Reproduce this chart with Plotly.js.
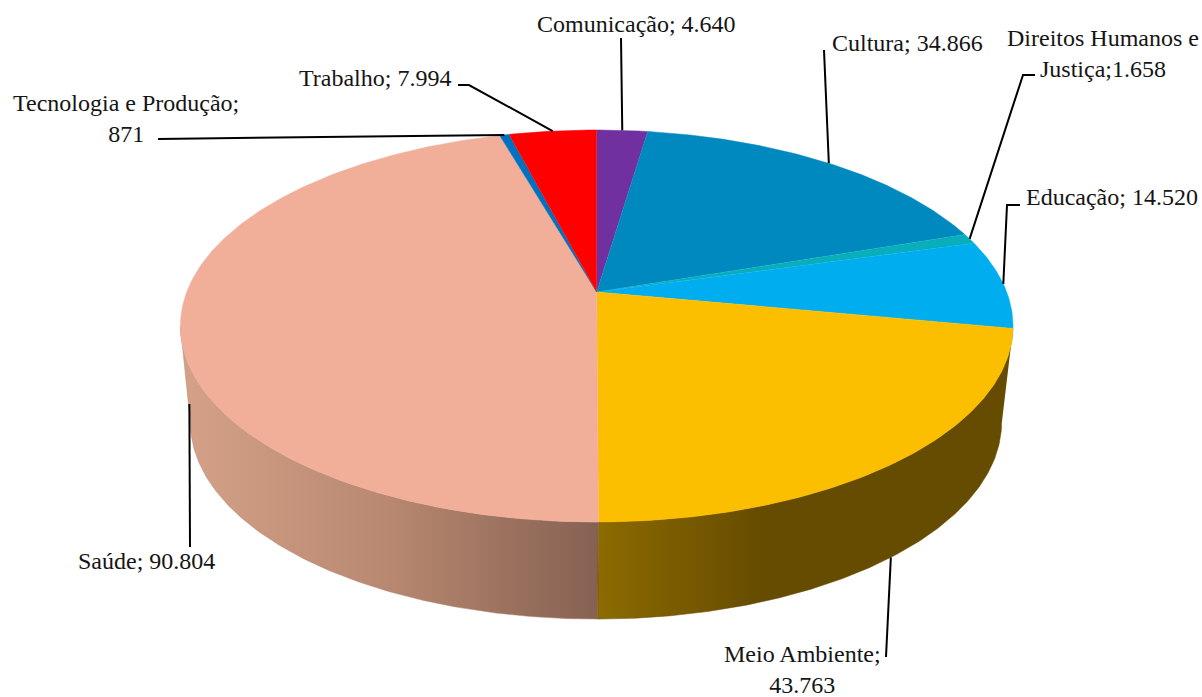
<!DOCTYPE html>
<html>
<head>
<meta charset="utf-8">
<script src="https://cdn.plot.ly/plotly-3.0.1.min.js"></script>
<style>html,body{margin:0;padding:0;background:#fff;overflow:hidden}#chart{width:1202px;height:697px}</style>
</head>
<body>
<div id="chart"></div>
<script>
// --- Data (clockwise from 12 o'clock) ---
const categories = ["Comunicação","Cultura","Direitos Humanos e Justiça","Educação","Meio Ambiente","Saúde","Tecnologia e Produção","Trabalho"];
const values = [4640,34866,1658,14520,43763,90804,871,7994];
const labelTexts = ["Comunicação; 4.640","Cultura; 34.866","Direitos Humanos e<br>Justiça;1.658","Educação; 14.520","Meio Ambiente;<br>43.763","Saúde; 90.804","Tecnologia e Produção;<br>871","Trabalho; 7.994"];

// --- Style ---
const sliceColors = ["#7030A0","#0089BE","#08AEBB","#00AEEF","#FCBF00","#F1AF99","#0070C0","#FF0000"];
const FONT = {family:"'Liberation Serif', serif", size:24, color:"#151515"};

// --- Layout helpers: label position, leader elbow points (pixel space) ---
const labelPos = [[636,24],[907,43],[1103,53],[1112,197],[802,669],[146,561],[126,118],[375,78]];
const leaderElbows = [[[621,38]],[[824,50]],[[1035,75],[1023,75]],[[1020,205],[1007,205]],[[886,657]],[[190,547]],[[158,139]],[[458,85],[469,85]]];
const leaderDepth = [0,0,0,0,1,0.88,0,0];

// --- Perspective disc projection ---
const K = 0.1735;
const TOP = {cx:596.7, cy:292, a:190.1, b:410};
const BASE = {cx:596, cy:388, a:191, b:399.5};
function project(d, deg){
  const t = deg*Math.PI/180, u = Math.sin(t), v = Math.cos(t), w = 1 + K*v;
  return [d.cx + d.b*u/w, d.cy - d.a*v/w];
}
function arc(d, a0, a1){
  const n = Math.max(2, Math.ceil(Math.abs(a1-a0)*2)), pts = [];
  for(let i=0;i<=n;i++) pts.push(project(d, a0+(a1-a0)*i/n));
  return pts;
}
const total = values.reduce((s,v)=>s+v,0);
let run = 0;
const angles = values.map(v=>{const a0=run/total*360; run+=v; return [a0, run/total*360];});

const traces = [];
function poly(pts, extra){
  traces.push(Object.assign({type:'scatter',mode:'lines',x:pts.map(p=>p[0]),y:pts.map(p=>p[1]),fill:'toself',hoverinfo:'skip',showlegend:false}, extra));
}
// Side walls (visible only for the slices facing the viewer)
const iMeio = categories.indexOf("Meio Ambiente"), iSaude = categories.indexOf("Saúde");
const wallRight = angles[iMeio][0], wallLeft = 260;
poly(arc(TOP, angles[iSaude][0], wallLeft).concat(arc(BASE, wallLeft, angles[iSaude][0])), {
  line:{width:0.5,color:'#B08670'},
  fillgradient:{type:'horizontal',start:188,stop:598,colorscale:[[0,'#D4A088'],[0.5,'#B7876F'],[1,'#866152']]}
});
poly(arc(TOP, wallRight, angles[iMeio][1]).concat(arc(BASE, angles[iMeio][1], wallRight)), {
  line:{width:0.5,color:'#664C00'},
  fillgradient:{type:'horizontal',start:598,stop:1004,colorscale:[[0,'#8C6B00'],[0.4,'#664C00'],[1,'#664C00']]}
});
// Top faces
categories.forEach((c,i)=>{
  const pts = [[TOP.cx,TOP.cy]].concat(arc(TOP, angles[i][0], angles[i][1]));
  poly(pts, {name:c, fillcolor:sliceColors[i], line:{width:0.5,color:sliceColors[i]}});
});
// Leader lines
categories.forEach((c,i)=>{
  const mid = (angles[i][0]+angles[i][1])/2;
  const p = project(TOP, mid), q = project(BASE, mid), f = leaderDepth[i];
  const end = [p[0]+(q[0]-p[0])*f, p[1]+(q[1]-p[1])*f];
  const pts = leaderElbows[i].concat([end]);
  traces.push({type:'scatter',mode:'lines',x:pts.map(p=>p[0]),y:pts.map(p=>p[1]),line:{width:2,color:'#000'},hoverinfo:'skip',showlegend:false});
});

const annotations = labelTexts.map((t,i)=>({
  x:labelPos[i][0], y:labelPos[i][1], xref:'x', yref:'y', text:t, showarrow:false,
  xanchor:'center', yanchor:'middle', align:'center', font:FONT
}));

Plotly.newPlot('chart', traces, {
  width:1202, height:697, margin:{l:0,r:0,t:0,b:0},
  paper_bgcolor:'#fff', plot_bgcolor:'#fff', showlegend:false,
  xaxis:{range:[0,1202],visible:false,fixedrange:true},
  yaxis:{range:[697,0],visible:false,fixedrange:true},
  annotations
}, {displayModeBar:false, staticPlot:true});
</script>
</body>
</html>
